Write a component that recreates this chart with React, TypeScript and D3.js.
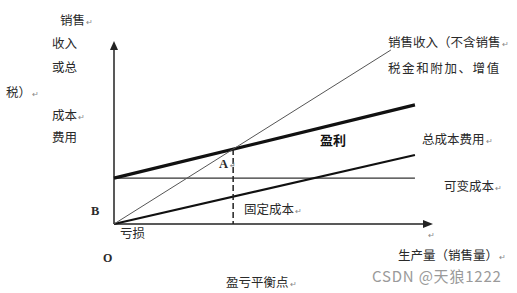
import React from "react";
import * as d3 from "d3";

// ---- data (quantity in units, amounts in value units) ----
const quantityDomain = [0, 106];
const amountDomain = [0, 61];
const costQty = [0, 100];
const fixedCost = [15.3, 15.3];
const variableCost = [0, 23];
const totalCost = [15.3, 39.7];
const revenueQty = [0, 92];
const revenue = [0, 58];

const yAxisLabels = ["销售", "收入", "或总", "税）", "成本", "费用"];
const revenueLabel = ["销售收入（不含销售", "税金和附加、增值"];

const W = 517;
const H = 293;

export default function App() {
  const x = d3.scaleLinear().domain(quantityDomain).range([114, 433]);
  const y = d3.scaleLinear().domain(amountDomain).range([224, 41]);
  const line = d3
    .line<[number, number]>()
    .x((d) => x(d[0]))
    .y((d) => y(d[1]));

  const pts = (qs: number[], vs: number[]) => qs.map((q, i) => [q, vs[i]] as [number, number]);

  // break-even: intersection of revenue and total cost
  const rs = (revenue[1] - revenue[0]) / (revenueQty[1] - revenueQty[0]);
  const ts = (totalCost[1] - totalCost[0]) / (costQty[1] - costQty[0]);
  const beQ = (totalCost[0] - revenue[0]) / (rs - ts);
  const beV = revenue[0] + rs * beQ;

  const x0 = x(0);
  const y0 = y(0);
  const xEnd = x(quantityDomain[1]);
  const yEnd = y(amountDomain[1]);

  const cn = "'Noto Sans CJK SC', 'Noto Sans', sans-serif";
  const serif = "'Liberation Serif', 'DejaVu Serif', serif";
  const tc = "#2a2a2a";
  const ret = (
    <tspan fontSize={8} fill="#888" dx={1}>↵</tspan>
  );

  const yLabelPos: [number, number][] = [
    [60, 21],
    [52, 44],
    [52, 68],
    [6, 93],
    [52, 116],
    [52, 138],
  ];
  const yLabelRet = [true, false, false, true, true, false];

  return (
    <svg
      width={W}
      height={H}
      style={{ position: "fixed", left: 0, top: 0, background: "#fff" }}
      fontFamily={cn}
    >
      <rect width={W} height={H} fill="#fff" />
      {/* axes */}
      <line x1={x0} y1={y0} x2={x0} y2={yEnd + 6} stroke="#222" strokeWidth={1.5} />
      <path d={`M${x0},${yEnd} L${x0 - 4},${yEnd + 9} L${x0 + 4},${yEnd + 9} Z`} fill="#222" />
      <line x1={x0} y1={y0} x2={xEnd - 6} y2={y0} stroke="#222" strokeWidth={1.5} />
      <path d={`M${xEnd},${y0} L${xEnd - 10},${y0 - 4} L${xEnd - 10},${y0 + 4} Z`} fill="#222" />

      {/* fixed cost */}
      <path d={line(pts(costQty, fixedCost))!} stroke="#333" strokeWidth={1.4} fill="none" />
      {/* variable cost */}
      <path d={line(pts(costQty, variableCost))!} stroke="#111" strokeWidth={2.2} fill="none" />
      {/* total cost */}
      <path d={line(pts(costQty, totalCost))!} stroke="#111" strokeWidth={3.2} fill="none" />
      {/* revenue */}
      <path d={line(pts(revenueQty, revenue))!} stroke="#555" strokeWidth={1} fill="none" />
      {/* break-even dashed */}
      <line
        x1={x(beQ)}
        y1={y(beV)}
        x2={x(beQ)}
        y2={y0}
        stroke="#222"
        strokeWidth={1.5}
        strokeDasharray="6,3"
      />

      {/* y label stack */}
      {yAxisLabels.map((t, i) => (
        <text key={t} x={yLabelPos[i][0]} y={yLabelPos[i][1]} dy="0.35em" fontSize={12.5} fill={tc}>
          {t}
          {yLabelRet[i] ? ret : null}
        </text>
      ))}

      {/* revenue label */}
      <text x={388} y={43} dy="0.35em" fontSize={12.5} fill={tc}>
        {revenueLabel[0]}
        {ret}
      </text>
      <text x={388} y={69} dy="0.35em" fontSize={12.5} fill={tc} letterSpacing={1.6}>
        {revenueLabel[1]}
      </text>

      <text x={320} y={140} dy="0.35em" fontSize={13} fontWeight="bold" fill="#111">
        盈利
      </text>
      <text x={422} y={140} dy="0.35em" fontSize={12.5} fill={tc}>
        总成本费用{ret}
      </text>
      <text x={444} y={187} dy="0.35em" fontSize={12.5} fill={tc}>
        可变成本{ret}
      </text>
      <text x={244} y={210} dy="0.35em" fontSize={12.5} fill={tc}>
        固定成本{ret}
      </text>
      <text x={120} y={234} dy="0.35em" fontSize={12.5} fill={tc}>
        亏损
      </text>
      <text x={219} y={164} dy="0.35em" fontSize={12.5} fontFamily={serif} fontWeight="bold" fill={tc}>
        A{ret}
      </text>
      <text x={91} y={211} dy="0.35em" fontSize={12.5} fontFamily={serif} fontWeight="bold" fill={tc}>
        B
      </text>
      <text x={103} y={258} dy="0.35em" fontSize={12} fontFamily={serif} fontWeight="bold" fill={tc}>
        O
      </text>
      <text x={428} y={235} dy="0.35em" fontSize={8} fill="#888">
        ↵
      </text>
      <text x={398} y={256} dy="0.35em" fontSize={12.5} fill={tc}>
        生产量（销售量）{ret}
      </text>
      <text x={226} y={283} dy="0.35em" fontSize={12.5} fill={tc}>
        盈亏平衡点{ret}
      </text>
      <text
        x={372}
        y={277}
        dy="0.35em"
        fontSize={15}
        letterSpacing={0.8}
        fill="#9a9a9a"
        fontFamily="'Noto Sans CJK SC', sans-serif"
      >
        CSDN @天狼1222
      </text>
    </svg>
  );
}
